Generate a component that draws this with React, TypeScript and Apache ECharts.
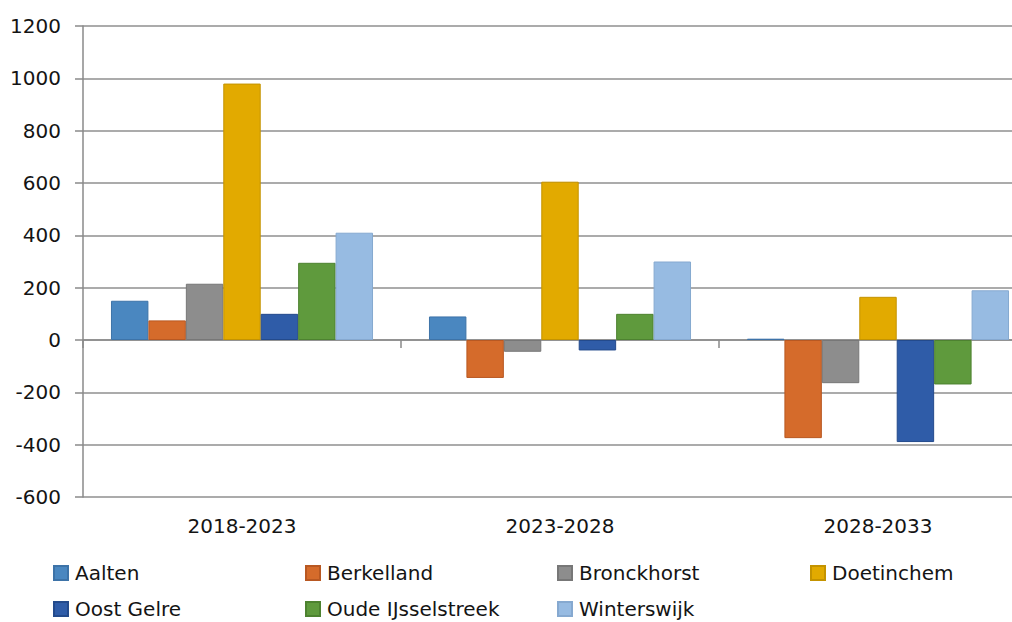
import React, { useEffect, useRef } from "react";
import * as echarts from "echarts";

const categories = ["2018-2023", "2023-2028", "2028-2033"];
const seriesNames = ["Aalten", "Berkelland", "Bronckhorst", "Doetinchem", "Oost Gelre", "Oude IJsselstreek", "Winterswijk"];
const aalten = [150, 90, 5];
const berkelland = [75, -145, -375];
const bronckhorst = [215, -45, -165];
const doetinchem = [980, 605, 165];
const oostGelre = [100, -40, -390];
const oudeIJsselstreek = [295, 100, -170];
const winterswijk = [410, 300, 190];
const yTicks = { min: -600, max: 1200, interval: 200 };

const seriesValues = [aalten, berkelland, bronckhorst, doetinchem, oostGelre, oudeIJsselstreek, winterswijk];
const colors = ["#4a87c0", "#d56b2b", "#8d8d8d", "#e2aa00", "#2f5ca8", "#5f9a3d", "#97bbe2"];
const borders = ["#3d73a8", "#b85822", "#777777", "#c49300", "#234a8c", "#4d8230", "#86a9d0"];

const legendPos = [
  [53, 563], [305, 563], [557, 563], [810, 563],
  [53, 599], [305, 599], [557, 599],
];

const FONT = "'DejaVu Sans', sans-serif";

export default function App() {
  const ref = useRef<HTMLDivElement>(null);
  useEffect(() => {
    if (!ref.current) return;
    const chart = echarts.init(ref.current, undefined, { renderer: "svg" });
    chart.setOption({
      animation: false,
      backgroundColor: "#ffffff",
      textStyle: { fontFamily: FONT },
      grid: {
        left: 83,
        top: 26,
        width: 954,
        height: 471,
        containLabel: false,
        outerBoundsMode: "none",
      },
      legend: seriesNames.map((n, i) => ({
        data: [n],
        left: legendPos[i][0],
        top: legendPos[i][1],
        padding: 0,
        icon: "rect",
        itemWidth: 14,
        itemHeight: 14,
        selectedMode: false,
        textStyle: { fontFamily: FONT, fontSize: 20, color: "#141414", padding: [0, 0, 0, 2] },
      })),
      xAxis: [
        {
          type: "category",
          data: categories,
          axisLine: { onZero: true, lineStyle: { color: "#8a8a8a", width: 1.5 } },
          axisTick: { show: true, length: 8, lineStyle: { color: "#8a8a8a", width: 1.5 } },
          axisLabel: { show: false },
          splitLine: { show: false },
        },
        {
          type: "category",
          data: categories,
          position: "bottom",
          axisLine: { show: false, onZero: false },
          axisTick: { show: false },
          axisLabel: { show: true, margin: 19, fontSize: 20, color: "#141414", fontFamily: FONT },
        },
      ],
      yAxis: {
        type: "value",
        min: yTicks.min,
        max: yTicks.max,
        interval: yTicks.interval,
        axisLine: { show: true, lineStyle: { color: "#8a8a8a", width: 1.5 } },
        axisTick: { show: true, length: 8, lineStyle: { color: "#8a8a8a", width: 1.5 } },
        axisLabel: {
          margin: 22,
          fontSize: 20,
          color: "#141414",
          fontFamily: FONT,
          formatter: (v: number) => String(v),
        },
        splitLine: { show: true, lineStyle: { color: "#8f8f8f", width: 1.5 } },
      },
      series: seriesNames.map((n, i) => ({
        name: n,
        type: "bar",
        xAxisIndex: 0,
        data: seriesValues[i],
        barGap: "0%",
        barCategoryGap: "17.6%",
        itemStyle: { color: colors[i], borderColor: borders[i], borderWidth: 1 },
      })),
    });
    return () => chart.dispose();
  }, []);
  return (
    <div
      ref={ref}
      style={{ position: "fixed", left: 0, top: 0, width: 1012, height: 622 }}
    />
  );
}
